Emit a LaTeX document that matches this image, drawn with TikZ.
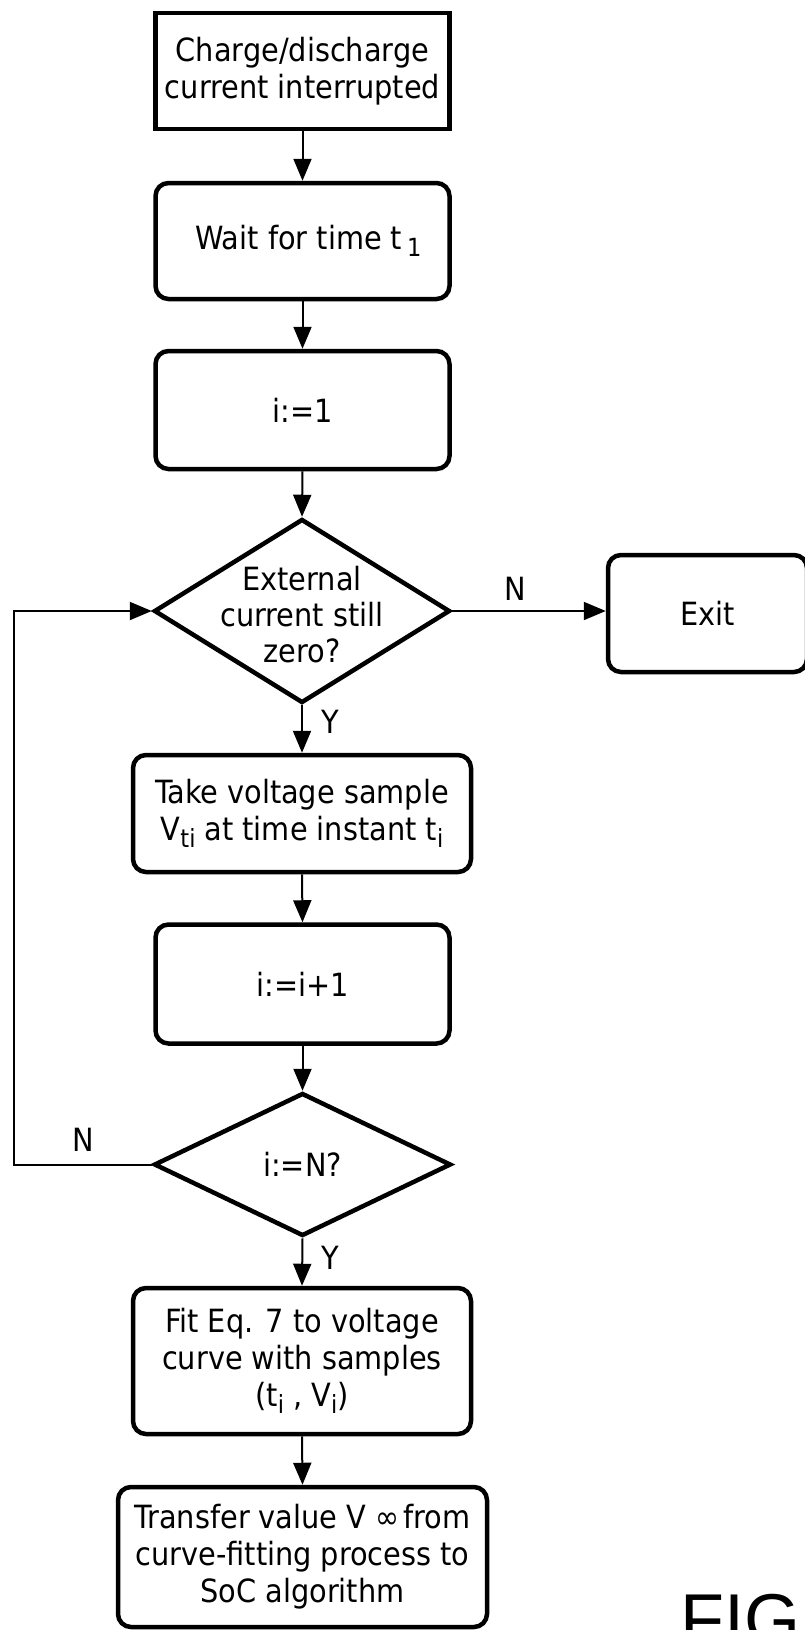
\documentclass[tikz,border=0pt]{standalone}
\usepackage{fontspec}
\setmainfont{DejaVu Sans Condensed}
\newfontfamily\figfont{Liberation Sans}
\usetikzlibrary{shapes.geometric,arrows.meta}
\newcommand\lsub[1]{\raisebox{-0.4ex}{\fontsize{25}{25}\selectfont #1}}
\begin{document}
\begin{tikzpicture}[x=1pt,y=-1pt,
  every node/.style={font=\fontsize{32}{37}\selectfont, align=center},
  box/.style={draw, line width=4.5pt, minimum width=294pt, inner sep=0pt},
  rbox/.style={box, rounded corners=13pt},
  dec/.style={draw, diamond, line width=4.5pt, inner sep=0pt},
  conn/.style={line width=2pt, -{Triangle[length=22pt,width=18pt]}},
  lbl/.style={inner sep=0pt}]
\useasboundingbox (0,0) rectangle (805,1630);

\node[box, minimum height=116pt] (start) at (302.5,71) {Charge/discharge\\current interrupted};
\node[rbox, minimum height=116pt] (wait) at (302.5,241) {\hspace{12pt}Wait for time t\hspace{5pt}\lsub{1}};
\node[rbox, minimum height=118pt] (init) at (302.5,410) {i:=1};
\node[dec, minimum width=296pt, minimum height=184pt] (d1) at (302,611) {};
\node[font=\fontsize{32}{36}\selectfont] (d1t) at ([yshift=-4pt]d1.center) {External\\current still\\zero?};
\node[rbox, minimum width=199pt, minimum height=117pt] (exit) at (707.5,613.5) {Exit};
\node[rbox, minimum width=338pt, minimum height=117pt] (take) at (302,813.5) {Take voltage sample\\V\lsub{ti} at time instant t\lsub{i}};
\node[rbox, minimum height=119pt] (inc) at (302.5,984) {i:=i+1};
\node[dec, minimum width=297pt, minimum height=143pt] (d2) at (302.5,1164.5) {};
\node (d2t) at (d2.center) {i:=N?};
\node[rbox, minimum width=338pt, minimum height=146pt] (fit) at (302,1361) {Fit Eq. 7 to voltage\\curve with samples\\(t\lsub{i} , V\lsub{i})};
\node[rbox, minimum width=369pt, minimum height=140pt] (xfer) at (302.5,1557) {Transfer value V ∞\hspace{4pt}from\\curve-fitting process to\\SoC algorithm};

\node[lbl] (n1) at (515,589) {N};
\node[lbl] (y1) at (330,722) {Y};
\node[lbl] (n2) at (83,1140) {N};
\node[lbl] (y2) at (330,1258) {Y};

\node[font=\figfont\fontsize{72}{72}\selectfont, anchor=north west, inner sep=0pt] (fig) at (680,1594) {FIG};

\coordinate (lp) at (14,611);

\draw[conn] (start.south) -- (wait.north);
\draw[conn] (wait.south) -- (init.north);
\draw[conn] (init.south) -- (d1.north);
\draw[conn] (d1.east) -- (d1.east -| exit.west);
\draw[conn] (d1.south) -- (take.north);
\draw[conn] (take.south) -- (inc.north);
\draw[conn] (inc.south) -- (d2.north);
\draw[conn] (d2.south) -- (fit.north);
\draw[conn] (fit.south) -- (xfer.north);
\draw[conn] (d2.west) -| (lp) -- (d1.west);
\end{tikzpicture}
\end{document}
